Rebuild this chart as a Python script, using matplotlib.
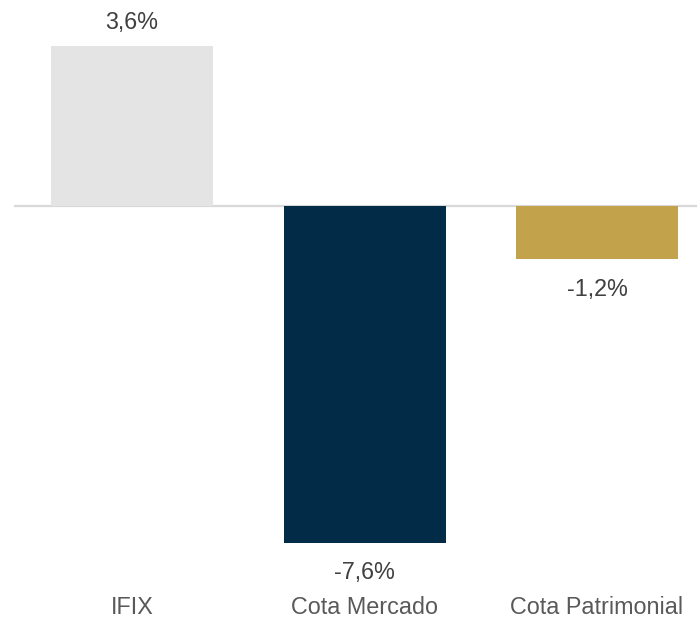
import matplotlib.pyplot as plt
import matplotlib.transforms as mtransforms

plt.rcParams['font.family'] = ['Liberation Sans', 'DejaVu Sans']

categorias = ['IFIX', 'Cota Mercado', 'Cota Patrimonial']
valores = [3.6, -7.6, -1.2]
rotulos = ['3,6%', '-7,6%', '-1,2%']
cores = ['#e4e4e4', '#022b47', '#c3a24c']

fig = plt.figure(figsize=(6.97, 6.44), dpi=100)
ax = fig.add_axes([0, 0, 1, 1])

x = range(len(categorias))
ax.bar(x, valores, width=0.697, color=cores, zorder=2)

# linha do zero
ax.axhline(0, xmin=15 / 697, xmax=1, color='#d9d9d9', linewidth=1.6, zorder=1)

for i, v in enumerate(valores):
    off = 17.0 if v > 0 else -21.5
    ax.annotate(rotulos[i], (i, v), xytext=(0, off), textcoords='offset points',
                ha='center', va='center', fontsize=16.8, color='#404040')

# rotulos das categorias
trans = mtransforms.blended_transform_factory(ax.transData, fig.transFigure)
for i, c in enumerate(categorias):
    ax.text(i, 1 - 608 / 644, c, transform=trans, ha='center', va='center',
            fontsize=16.8, color='#595959')

ax.set_xlim(-0.568, 2.43)
ax.set_ylim(-9.876, 4.645)
ax.axis('off')

fig.savefig('out.png', dpi=100)
